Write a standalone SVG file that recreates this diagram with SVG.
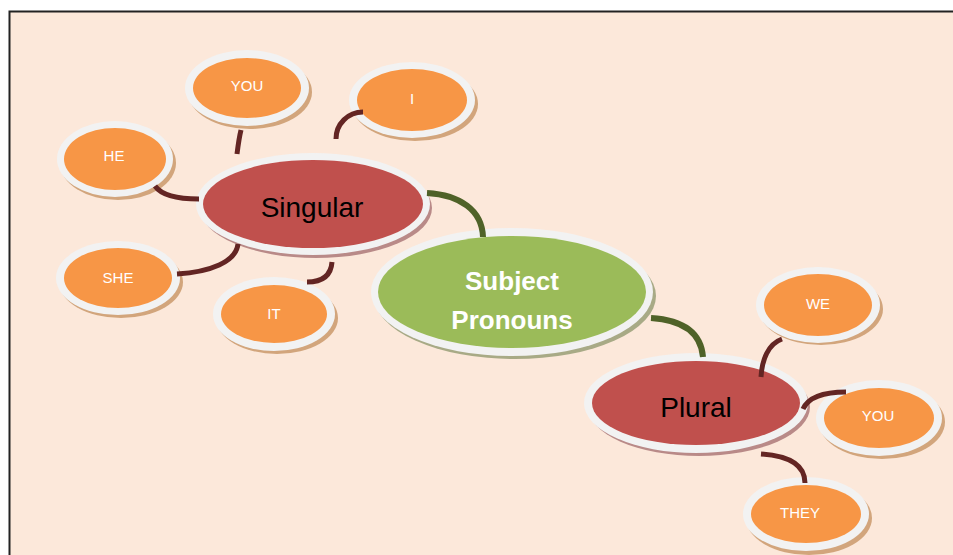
<svg xmlns="http://www.w3.org/2000/svg" width="953" height="555" viewBox="0 0 953 555">
<style>
.ring{fill:#F2F2F2}
.or{fill:#F79646}
.rd{fill:#C0504D}
.gr{fill:#9BBB59}
.sho{fill:#D2A57C}
.shr{fill:#B98A88}
.shg{fill:#A8AA86}
.lbl{font-family:"Liberation Sans",Arial,sans-serif;font-size:15px;fill:#FFFFFF;text-anchor:middle}
.big{font-family:"Liberation Sans",Arial,sans-serif;font-size:28px;fill:#000000;text-anchor:middle}
.main{font-family:"Liberation Sans",Arial,sans-serif;font-size:26px;font-weight:bold;fill:#FFFFFF;text-anchor:middle}
.c{fill:none;stroke:#632523;stroke-width:5}
.cg{fill:none;stroke:#4F6228;stroke-width:6}
</style>
<rect x="0" y="0" width="953" height="555" fill="#FFFFFF"/>
<rect x="10" y="12" width="943" height="543" fill="#FCE8DA"/>
<path d="M9.5,555 V11.5 H953" fill="none" stroke="#222222" stroke-width="2"/>
<g id="node-you-s">
<ellipse class="sho" cx="250" cy="92" rx="62" ry="37"/>
<ellipse class="ring" cx="247" cy="88" rx="62" ry="38"/>
<ellipse class="or" cx="247" cy="88" rx="54" ry="30"/>
<text class="lbl" x="247" y="91">YOU</text>
</g>
<g id="node-i">
<ellipse class="sho" cx="415" cy="104" rx="63" ry="37"/>
<ellipse class="ring" cx="412" cy="100" rx="63" ry="38"/>
<ellipse class="or" cx="412" cy="100" rx="55" ry="31"/>
<text class="lbl" x="412" y="104">I</text>
</g>
<g id="node-he">
<ellipse class="sho" cx="118" cy="163" rx="58" ry="37"/>
<ellipse class="ring" cx="115" cy="159" rx="58" ry="38"/>
<ellipse class="or" cx="115" cy="159" rx="51" ry="31"/>
<text class="lbl" x="114" y="161">HE</text>
</g>
<g id="node-she">
<ellipse class="sho" cx="121" cy="282" rx="62" ry="36"/>
<ellipse class="ring" cx="118" cy="278" rx="62" ry="37"/>
<ellipse class="or" cx="118" cy="278" rx="54" ry="30"/>
<text class="lbl" x="118" y="283">SHE</text>
</g>
<g id="node-it">
<ellipse class="sho" cx="277" cy="318" rx="61" ry="36"/>
<ellipse class="ring" cx="274" cy="314" rx="61" ry="37"/>
<ellipse class="or" cx="274" cy="314" rx="53" ry="29"/>
<text class="lbl" x="274" y="319">IT</text>
</g>
<g id="node-singular">
<ellipse class="shr" cx="316" cy="208" rx="116" ry="50"/>
<ellipse class="ring" cx="313" cy="204" rx="117" ry="51"/>
<ellipse class="rd" cx="313" cy="204" rx="110" ry="44"/>
<text class="big" x="312" y="217">Singular</text>
</g>
<g id="node-subject">
<ellipse class="shg" cx="515" cy="296" rx="141" ry="63"/>
<ellipse class="ring" cx="512" cy="292" rx="141" ry="64"/>
<ellipse class="gr" cx="512" cy="292" rx="134" ry="56"/>
<text class="main" x="512" y="290">Subject</text>
<text class="main" x="512" y="329">Pronouns</text>
</g>
<g id="node-plural">
<ellipse class="shr" cx="699" cy="407" rx="111" ry="49"/>
<ellipse class="ring" cx="696" cy="403" rx="112" ry="50"/>
<ellipse class="rd" cx="696" cy="403" rx="104" ry="42"/>
<text class="big" x="696" y="417">Plural</text>
</g>
<g id="node-we">
<ellipse class="sho" cx="821" cy="309" rx="62" ry="36"/>
<ellipse class="ring" cx="818" cy="305" rx="62" ry="38"/>
<ellipse class="or" cx="818" cy="305" rx="54" ry="31"/>
<text class="lbl" x="818" y="309">WE</text>
</g>
<g id="node-you-p">
<ellipse class="sho" cx="882" cy="422" rx="63" ry="37"/>
<ellipse class="ring" cx="879" cy="418" rx="63" ry="38"/>
<ellipse class="or" cx="879" cy="418" rx="55" ry="30"/>
<text class="lbl" x="878" y="421">YOU</text>
</g>
<g id="node-they">
<ellipse class="sho" cx="809" cy="518" rx="63" ry="37"/>
<ellipse class="ring" cx="806" cy="514" rx="63" ry="37"/>
<ellipse class="or" cx="806" cy="514" rx="55" ry="29"/>
<text class="lbl" x="800" y="518">THEY</text>
</g>
<g id="connectors">
<path class="c" d="M241,130 C239,138 238,146 237,154"/>
<path class="c" d="M363,112 C348,112 336,124 336,139"/>
<path class="c" d="M155,186 C162,196 180,199 199,199"/>
<path class="c" d="M177,274 C210,272 236,262 238,244"/>
<path class="c" d="M307,282 C322,282 331,276 332,262"/>
<path class="cg" d="M427,193 C460,195 482,210 483,237"/>
<path class="cg" d="M651,318 C683,320 701,333 703,357"/>
<path class="c" d="M782,339 C768,344 762,360 761,377"/>
<path class="c" d="M846,392 C822,392 808,398 803,409"/>
<path class="c" d="M761,454 C790,456 805,466 805,483"/>
</g>
</svg>
